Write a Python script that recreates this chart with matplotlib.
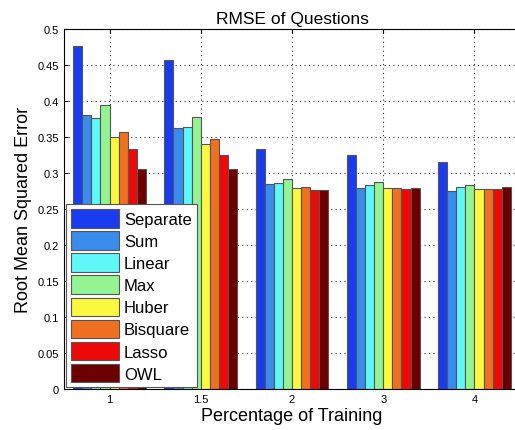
import matplotlib
matplotlib.use("Agg")
import matplotlib.pyplot as plt
import numpy as np

groups = ["1", "1.5", "2", "3", "4"]
methods = ["Separate", "Sum", "Linear", "Max", "Huber", "Bisquare", "Lasso", "OWL"]
colors = ["#1a3cf0", "#3a8cec", "#5ef8f8", "#94f494", "#fcf840", "#f07020", "#ee0808", "#6c0000"]

separate = [0.476, 0.457, 0.333, 0.325, 0.315]
sum_ = [0.380, 0.362, 0.285, 0.279, 0.275]
linear = [0.376, 0.364, 0.286, 0.283, 0.280]
max_ = [0.394, 0.378, 0.292, 0.287, 0.283]
huber = [0.350, 0.340, 0.279, 0.279, 0.278]
bisquare = [0.357, 0.347, 0.281, 0.279, 0.278]
lasso = [0.333, 0.325, 0.276, 0.278, 0.278]
owl = [0.306, 0.305, 0.276, 0.279, 0.281]
series = [separate, sum_, linear, max_, huber, bisquare, lasso, owl]

plt.rcParams['font.family'] = ['Liberation Sans', 'DejaVu Sans']

fig = plt.figure(figsize=(5.15, 4.31), dpi=100)
ax = fig.add_axes([64/515, 1-390/431, 456/515, 360/431])

x = np.arange(1, len(groups)+1)
n = len(series)
w = 0.1
for i, (vals, c, m) in enumerate(zip(series, colors, methods)):
    ax.bar(x + (i - (n-1)/2) * w, vals, width=w, color=c, edgecolor="#555555",
           linewidth=0.8, label=m, zorder=2)

ax.set_xlim(0.5, len(groups)+0.5)
ax.set_ylim(0, 0.5)
ax.set_yticks(np.arange(0, 0.501, 0.05))
ax.set_yticklabels(["0", "0.05", "0.1", "0.15", "0.2", "0.25", "0.3", "0.35", "0.4", "0.45", "0.5"])
ax.set_xticks(x)
ax.set_xticklabels(groups)
ax.tick_params(direction="in", labelsize=8, length=3, top=True, right=True)
ax.grid(True, linestyle=(0, (1, 3)), color="#333333", linewidth=0.8)
ax.set_axisbelow(True)

ax.set_title("RMSE of Questions", fontsize=12.5, pad=4)
ax.set_xlabel("Percentage of Training", fontsize=13, labelpad=2)
ax.set_ylabel("Root Mean Squared Error", fontsize=13, labelpad=4)

leg = ax.legend(loc="lower left", bbox_to_anchor=(0, 0), borderaxespad=0.1,
                fontsize=12, handlelength=2.9, handleheight=1.35, labelspacing=0.2,
                handletextpad=0.3, borderpad=0.3, fancybox=False, framealpha=1,
                edgecolor="#555555")
leg.get_frame().set_linewidth(0.8)
leg.set_zorder(5)

fig.savefig("out.png", dpi=100)
